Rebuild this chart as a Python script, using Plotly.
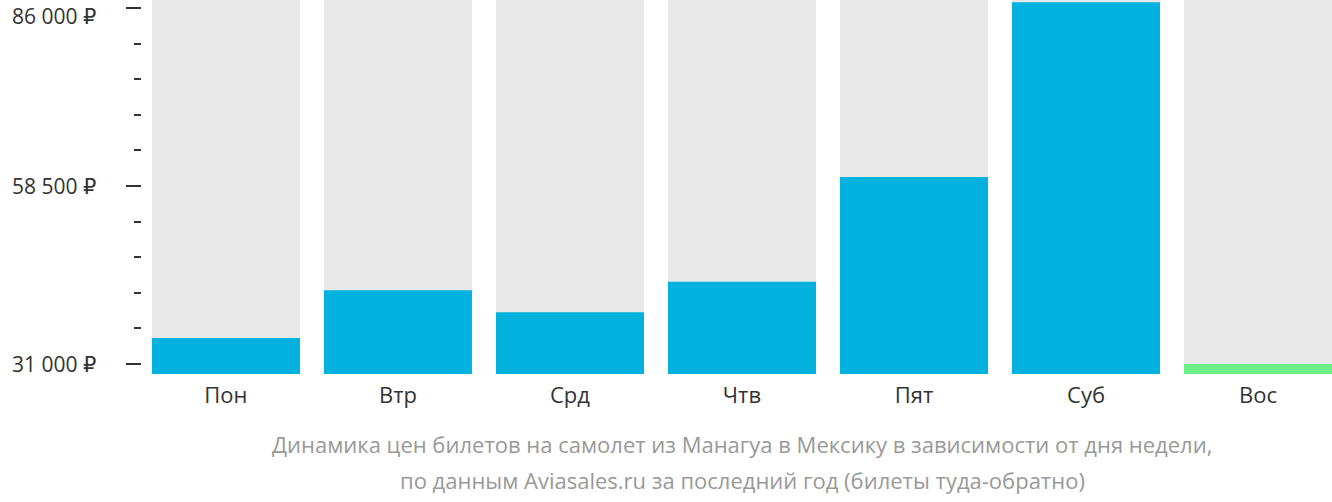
import plotly.graph_objects as go

days = ["Пон", "Втр", "Срд", "Чтв", "Пят", "Суб", "Вос"]
prices = [35000, 42400, 39000, 43700, 59900, 86900, 31000]
bar_colors = ["#00B2DD", "#00B2DD", "#00B2DD", "#00B2DD", "#00B2DD", "#00B2DD", "#6CF087"]
tick_values = [31000, 58500, 86000]
tick_labels = ["31 000 ₽", "58 500 ₽", "86 000 ₽"]
minor_values = [36500, 42000, 47500, 53000, 64000, 69500, 75000, 80500]
title_lines = [
    "Динамика цен билетов на самолет из Манагуа в Мексику в зависимости от дня недели,",
    "по данным Aviasales.ru за последний год (билеты туда-обратно)",
]

y_min, y_max = 29455, 87236
x_pos = list(range(len(days)))
bar_w = 148 / 172

fig = go.Figure()
fig.add_trace(go.Bar(
    x=x_pos, y=[y_max] * len(days), width=bar_w,
    marker=dict(color="#E8E8E8", line=dict(width=0)),
    hoverinfo="skip", showlegend=False,
))
fig.add_trace(go.Bar(
    x=x_pos, y=prices, width=bar_w,
    marker=dict(color=bar_colors, line=dict(width=0)),
    showlegend=False,
))

font = "Open Sans, DejaVu Sans, sans-serif"
fig.update_layout(
    width=1332, height=502,
    margin=dict(l=142, r=0, t=0, b=128),
    barmode="overlay",
    plot_bgcolor="white", paper_bgcolor="white",
    font=dict(family=font, size=22, color="#333333"),
    xaxis=dict(
        range=[-0.488, 6.430],
        tickvals=x_pos, ticktext=days,
        showgrid=False, zeroline=False, showline=False, ticks="",
        tickfont=dict(size=22, color="#333333"),
        ticklabelstandoff=6, automargin=False,
        fixedrange=True,
    ),
    yaxis=dict(
        range=[y_min, y_max],
        tickvals=tick_values, showticklabels=False,
        ticks="outside", ticklen=15, tickwidth=2, tickcolor="#333333",
        automargin=False,
        showgrid=False, zeroline=False, showline=False,
        minor=dict(tickvals=minor_values,
                   ticks="outside", ticklen=7, tickwidth=2, tickcolor="#333333",
                   showgrid=False),
    ),
)
for v, lab in zip(tick_values, tick_labels):
    is_top = v == max(tick_values)
    fig.add_annotation(
        text=lab, xref="paper", yref="y", x=0, y=v,
        xanchor="right", yanchor="top" if is_top else "middle", xshift=-44,
        yshift=8 if is_top else 0,
        showarrow=False, font=dict(family=font, size=21, color="#333333"),
    )
for i, line in enumerate(title_lines):
    fig.add_annotation(
        text=line, xref="paper", yref="paper",
        x=(742 - 142) / 1190, y=-(444 - 374 + 36 * i) / 374,
        yanchor="middle", xanchor="center", showarrow=False,
        font=dict(family=font, size=22, color="#999999"),
    )

fig.write_html("out.html")
